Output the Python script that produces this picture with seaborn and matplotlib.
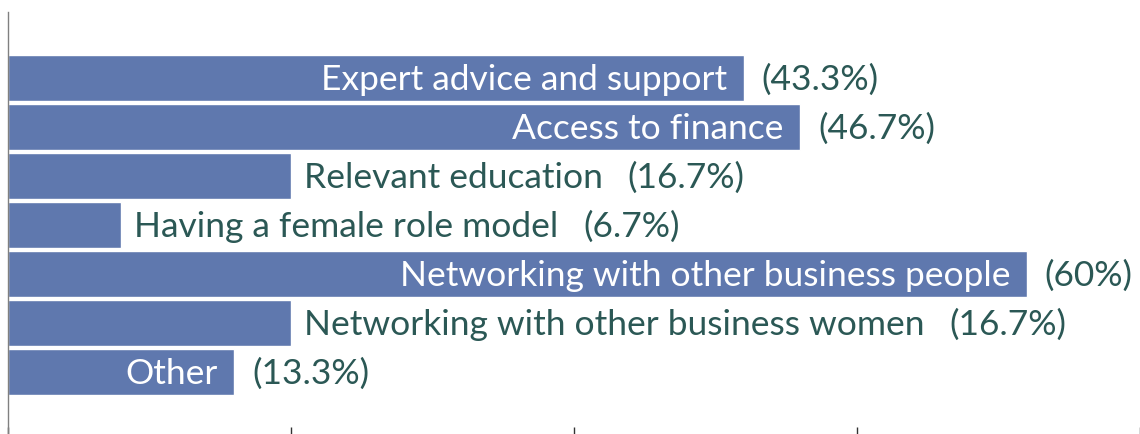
import matplotlib
matplotlib.use("Agg")
import matplotlib.pyplot as plt
import seaborn as sns

# answers out of 30 respondents
categories = [
    "Expert advice and support",
    "Access to finance",
    "Relevant education",
    "Having a female role model",
    "Networking with other business people",
    "Networking with other business women",
    "Other",
]
counts = [13, 14, 5, 2, 18, 5, 4]
percents = ["43.3%", "46.7%", "16.7%", "6.7%", "60%", "16.7%", "13.3%"]

bar_color = "#5f78ae"
text_color = "#2b5855"

sns.set_style("white")
plt.rcParams["font.family"] = ["Lato", "DejaVu Sans"]

fig = plt.figure(figsize=(11.4, 4.34), dpi=100)
ax = fig.add_axes([8 / 1140, 0.0, 1 - 8 / 1140, 1 - 12 / 434])

sns.barplot(x=counts, y=categories, orient="h", color=bar_color,
            width=0.92, saturation=1, ax=ax)

ax.set_xlim(0, 20)
ax.set_ylim(7.265, -1.347)
ax.set_xticks([0, 5, 10, 15, 20])
ax.set_xticklabels([])
ax.set_yticks([])
ax.set_ylabel("")
ax.tick_params(axis="x", direction="in", length=5, width=1, color="#333333", bottom=True)
for side in ["top", "right", "bottom"]:
    ax.spines[side].set_visible(False)
ax.spines["left"].set_color("#808080")
ax.spines["left"].set_linewidth(1)

fig.canvas.draw()
renderer = fig.canvas.get_renderer()
fs = 25.5
dy = -1.5

#labels inside the bar if they fit, otherwise after it
for i, (cat, n, pct) in enumerate(zip(categories, counts, percents)):
    lab = ax.annotate(cat, (n, i), xytext=(-12, dy), textcoords="offset points",
                      ha="right", va="center", color="white", fontsize=fs)
    w = lab.get_window_extent(renderer).width
    x0 = ax.transData.transform((0, i))[0]
    x1 = ax.transData.transform((n, i))[0]
    if w + 30 < x1 - x0:
        ax.annotate("(" + pct + ")", (n, i), xytext=(13, dy), textcoords="offset points",
                    ha="left", va="center", color=text_color, fontsize=fs)
    else:
        lab.remove()
        lab = ax.annotate(cat, (n, i), xytext=(9, dy), textcoords="offset points",
                          ha="left", va="center", color=text_color, fontsize=fs)
        ax.annotate("(" + pct + ")", (1, 0.5), xycoords=lab, xytext=(18, 0),
                    textcoords="offset points", ha="left", va="center",
                    color=text_color, fontsize=fs)

fig.savefig("out.png", dpi=100)
